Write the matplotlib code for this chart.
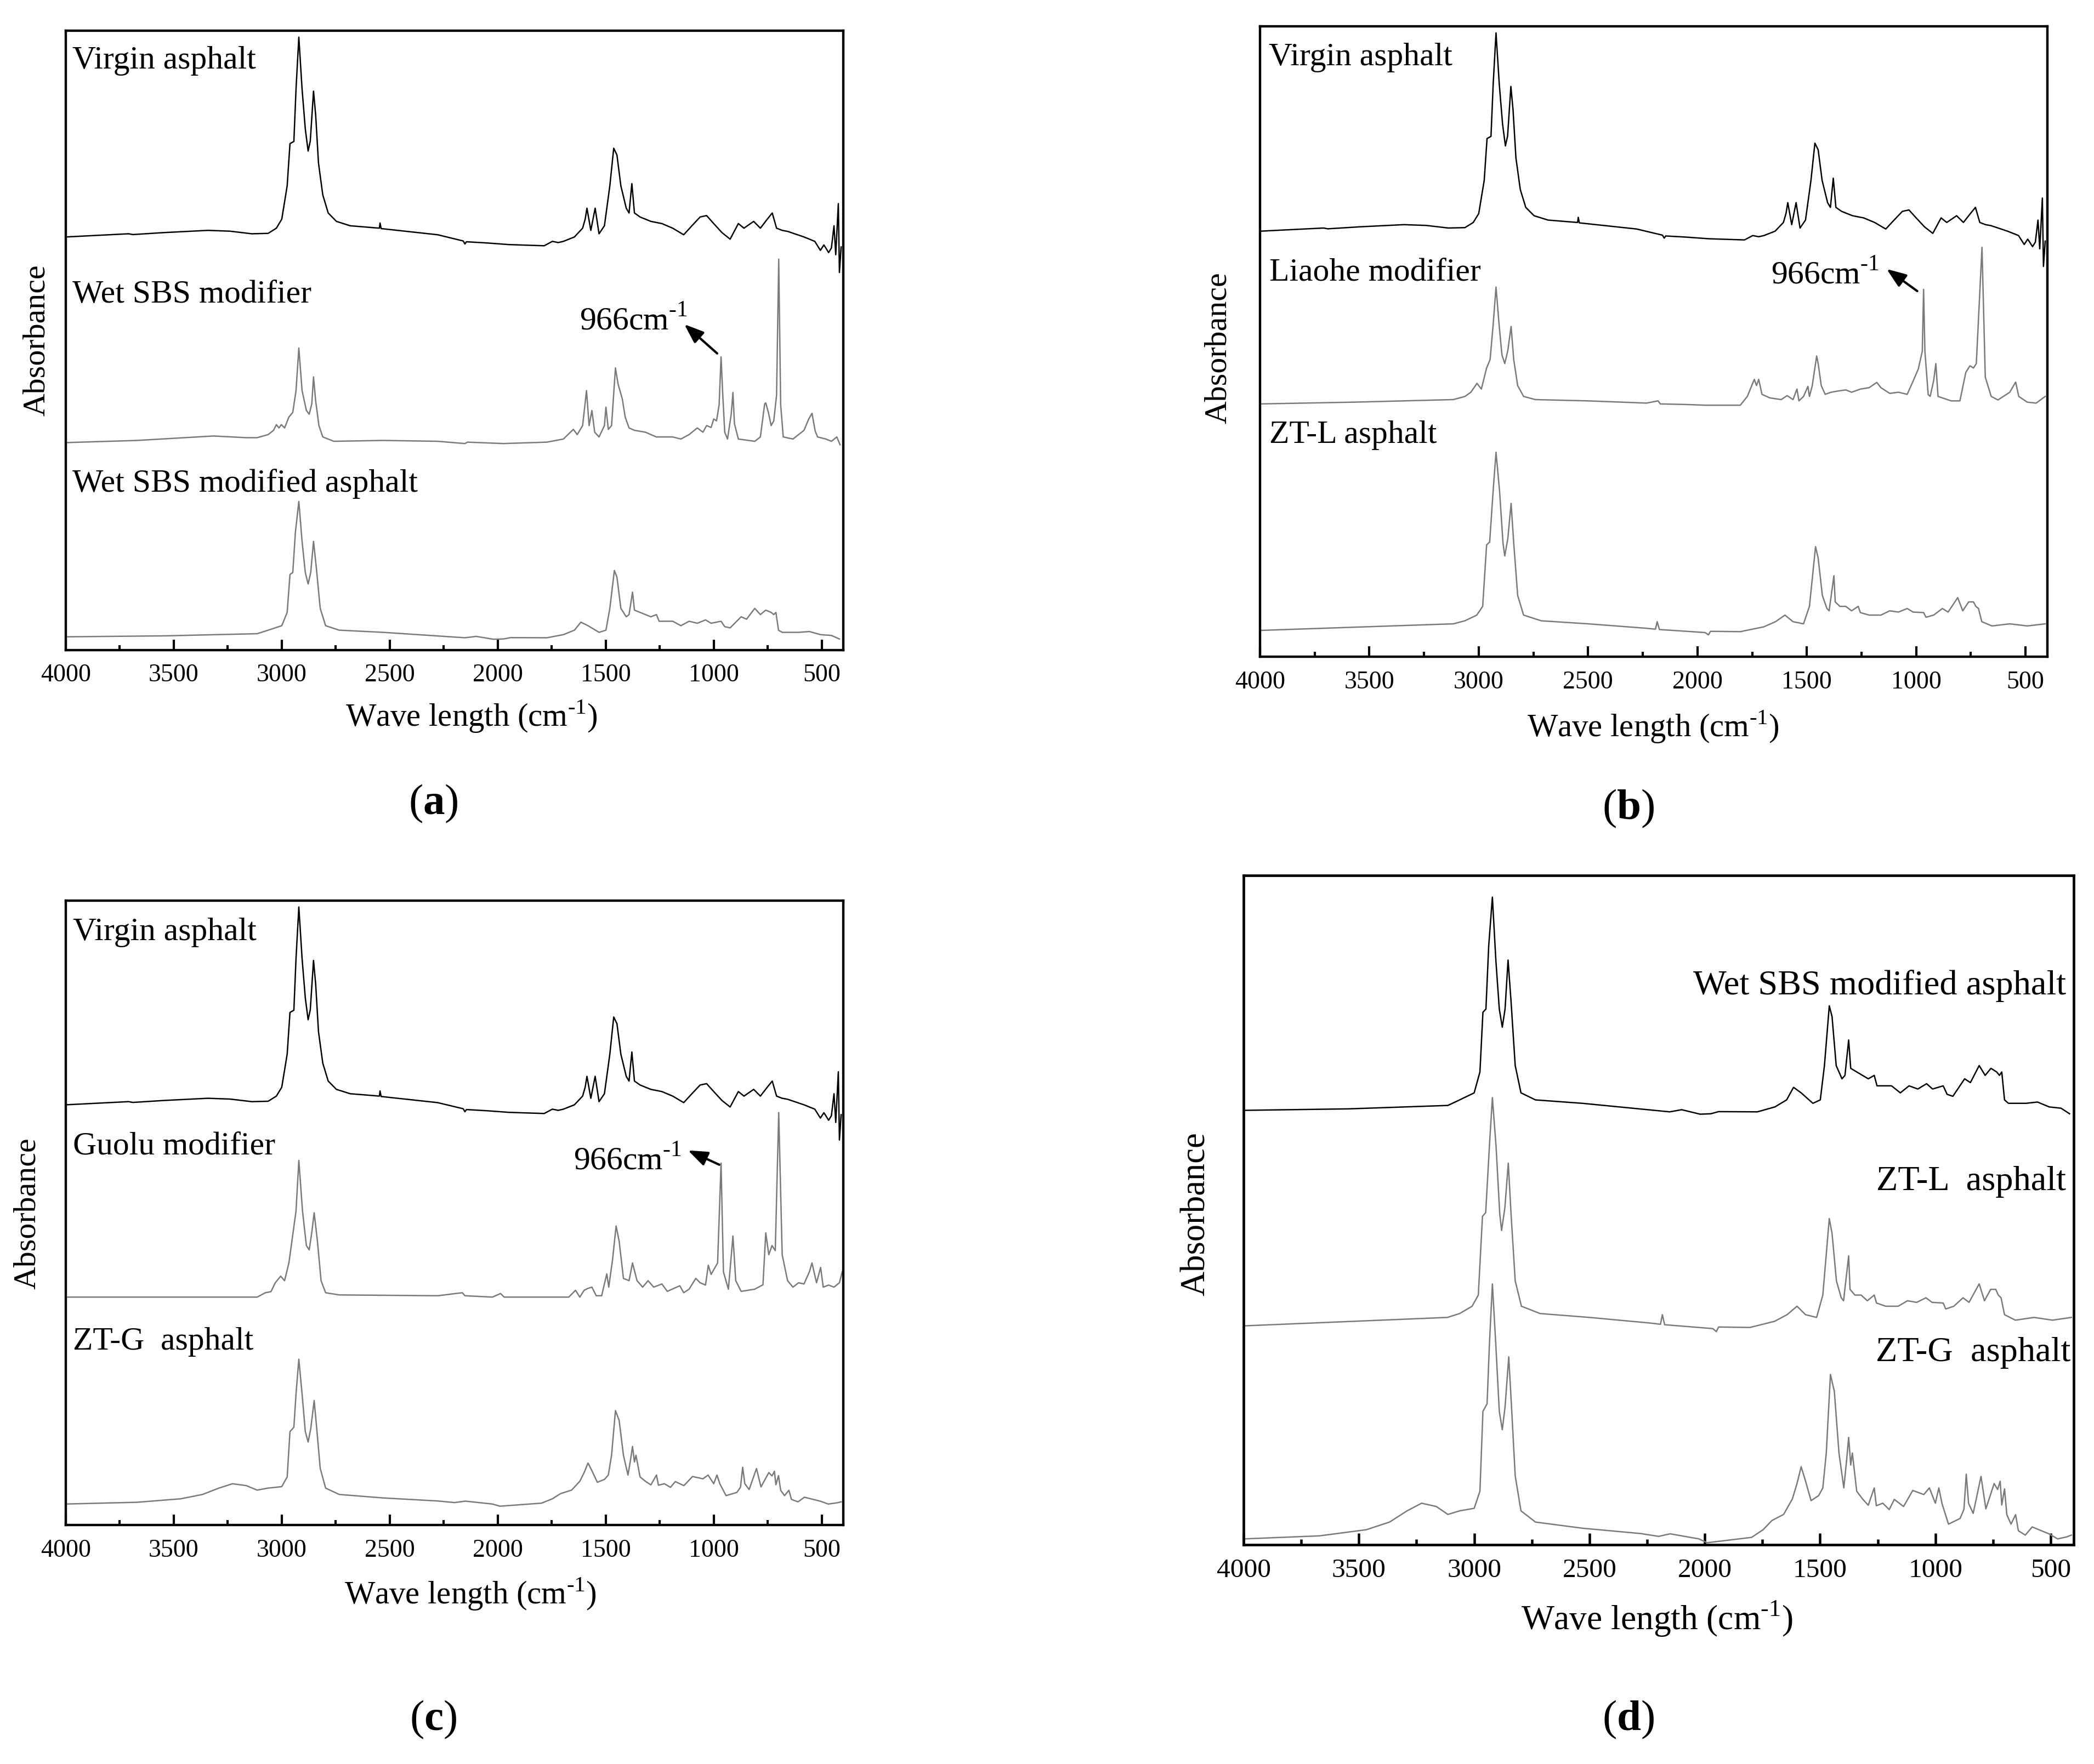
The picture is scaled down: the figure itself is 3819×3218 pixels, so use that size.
import matplotlib
matplotlib.use("Agg")
import matplotlib.pyplot as plt
from matplotlib.ticker import MultipleLocator

plt.rcParams['font.family'] = ['Liberation Serif', 'DejaVu Serif']
plt.rcParams['mathtext.fontset'] = 'custom'
plt.rcParams['mathtext.rm'] = 'Liberation Serif'
plt.rcParams['mathtext.bf'] = 'Liberation Serif:bold'

# spectra: wavenumber (cm-1) and absorbance,
# scaled so that the 2921 cm-1 band = 100 in every sample
virgin_wn = [4000, 3709, 3690, 3544, 3342, 3240, 3139, 3063, 3025, 3000, 2975, 2962, 2944, 2934,
             2921, 2906, 2891, 2878, 2868, 2853, 2843, 2830, 2810, 2785, 2747, 2683, 2548, 2545,
             2540, 2278, 2160, 2152, 2145, 2050, 1950, 1898, 1785, 1747, 1720, 1696, 1645, 1607,
             1595, 1587, 1569, 1549, 1531, 1506, 1481, 1463, 1448, 1430, 1405, 1392, 1379, 1367,
             1341, 1291, 1240, 1190, 1139, 1101, 1063, 1033, 1000, 962, 924, 886, 860, 815, 784,
             752, 729, 709, 683, 658, 582, 532, 506, 490, 481, 468, 455, 443, 435, 423, 418, 410]
virgin_ab = [0, 1.6, 1.2, 2.2, 3.3, 2.9, 1.6, 1.8, 4.4, 8.9, 25.6, 46.7, 47.8, 74,
             100, 74, 54, 43, 48, 73, 61, 37, 21, 12, 7.8, 5.6, 4.4, 7,
             4.2, 1.1, -2, -3.5, -2.4, -3, -3.8, -4, -4.4, -2.2, -2.8, -2.2, 0, 4.4,
             9, 14.4, 3.3, 14.4, 1.6, 5.6, 25.6, 44.4, 41, 25.6, 14.4, 12, 26.7, 12,
             10, 7.8, 6.7, 4.4, 1.1, 5.6, 10, 10.7, 6.7, 2.2, -1.1, 6.7, 4.4, 7.8, 4.4,
             8.9, 12, 4.4, 3.3, 2.8, 0, -2.2, -6.7, -4, -5.5, -7.8, -5.5, 5.6, -8.9, 16.7, -17.8, -5]

sbs_mod_wn = [4000, 3671, 3316, 3164, 3114, 3063, 3038, 3025, 3013, 3002, 2987, 2967, 2949, 2934,
              2921, 2906, 2886, 2873, 2861, 2853, 2843, 2828, 2810, 2759, 2531, 2278, 2152, 2140,
              1974, 1772, 1696, 1650, 1632, 1607, 1589, 1577, 1564, 1551, 1531, 1506, 1499, 1488,
              1473, 1455, 1443, 1423, 1410, 1392, 1367, 1316, 1266, 1190, 1152, 1114, 1076, 1050,
              1033, 1012, 1000, 987, 975, 966, 958, 949, 936, 919, 911, 904, 886, 810, 784, 764,
              759, 747, 734, 722, 709, 699, 690, 678, 633, 582, 560, 545, 530, 519, 481, 455, 430, 415]
sbs_mod_ab = [0, 2.3, 7, 5.2, 5.2, 8.5, 13, 19, 15.5, 19, 15.5, 27, 32, 55,
              100, 55, 34, 30, 41, 69.5, 44, 18, 6, 1.4, 2.3, 1.4, -1, 0.5,
              -1, 0.5, 3.8, 14, 8.5, 18, 55, 18, 34, 11, 6, 18, 37.5, 14,
              18, 79, 62, 46, 27, 15.5, 13, 11, 6, 6, 3.8, 8.5, 15.5, 11,
              18, 16, 25, 23, 40, 90.6, 50, 11, 3.8, 30, 53, 20, 3.8, 1.4, 6, 41,
              42, 32, 18, 23, 50, 194, 40, 6, 3.8, 13, 25, 31, 12, 6, 3.8, 1.4, 6, -2.3]

sbs_asp_wn = [4000, 3544, 3114, 3063, 3000, 2975, 2962, 2949, 2937, 2921, 2906, 2891, 2878, 2866,
              2853, 2840, 2822, 2797, 2734, 2531, 2152, 2100, 2020, 1974, 1940, 1772, 1696, 1645,
              1615, 1582, 1531, 1499, 1481, 1460, 1448, 1430, 1405, 1392, 1376, 1367, 1316, 1291,
              1265, 1253, 1190, 1152, 1114, 1076, 1038, 1012, 966, 949, 924, 873, 848, 810, 784,
              759, 734, 722, 712, 700, 683, 607, 557, 506, 455, 418]
sbs_asp_ab = [0, 0.7, 2.3, 4.9, 8.2, 18, 46, 47.5, 77, 100, 70.5, 47.5, 39, 47.5,
              70.5, 51, 21, 8.2, 4.9, 3.3, -0.7, 0.3, -1.8, -1.6, -0.6, -0.7, 1.6, 4.9,
              10.8, 8.2, 3.3, 4.9, 21, 49, 44, 21, 14.8, 16.4, 33, 19.7, 16.4, 14.8,
              16.4, 11.5, 11.5, 8.2, 11.5, 10, 12.5, 10, 11.5, 7.5, 6.6, 14.8, 13, 21, 16.4,
              19.7, 18, 16.4, 18, 4.9, 3.3, 3.3, 3.9, 1.6, 1, -1.6]

liaohe_wn = [4000, 3572, 3116, 3063, 3036, 3008, 2988, 2964, 2948, 2934, 2921, 2907, 2894, 2881,
             2867, 2852, 2840, 2822, 2795, 2741, 2500, 2233, 2180, 2170, 2050, 1965, 1804, 1772,
             1740, 1730, 1720, 1705, 1670, 1617, 1590, 1563, 1545, 1536, 1515, 1495, 1488, 1475,
             1455, 1448, 1434, 1416, 1389, 1362, 1322, 1295, 1255, 1215, 1180, 1161, 1121, 1081,
             1041, 1014, 990, 972, 966, 960, 945, 936, 920, 910, 900, 840, 800, 773, 754, 738,
             725, 699, 684, 657, 626, 572, 545, 531, 492, 451, 424, 410]
liaohe_ab = [0, 1.5, 3.7, 6.4, 10, 17.6, 12.7, 30.7, 38, 68, 100, 68, 42, 34.5,
             45.7, 66.3, 38, 15.7, 6.4, 3.7, 2.6, 0.7, 2.6, 0, -0.5, -1.1, -1.1, 6.4,
             21, 15.7, 21, 8.2, 5.2, 3.7, 7.1, 3.7, 12.7, 2.6, 6.4, 15, 6.4, 15.7,
             41, 34.5, 15.7, 8.2, 10, 10.9, 12, 10, 12.7, 13.9, 18.4, 13.9, 9, 10,
             8.2, 19.5, 30, 45, 98, 45, 8, 6.4, 20, 34.5, 6.4, 2.6, 2.6, 27, 32.6, 30.7,
             34.5, 134, 23, 6.4, 3.4, 10, 18.7, 6.4, 1.5, 0.7, 4.5, 6.4]

ztl_wn = [4000, 3116, 3063, 3009, 2982, 2964, 2950, 2934, 2921, 2905, 2889, 2881, 2867, 2852,
          2840, 2822, 2795, 2714, 2500, 2233, 2192, 2184, 2174, 2050, 1965, 1950, 1940, 1804,
          1697, 1643, 1600, 1563, 1515, 1488, 1460, 1448, 1429, 1408, 1398, 1376, 1370, 1349,
          1322, 1295, 1265, 1255, 1215, 1161, 1121, 1081, 1041, 1014, 966, 955, 920, 880, 854,
          810, 787, 760, 738, 727, 715, 700, 653, 572, 492, 410]
ztl_ab = [0, 3.7, 5.4, 8.6, 13.5, 48, 49.6, 78.6, 100, 78.6, 49, 41.8, 51.6, 71.3,
          49, 19.7, 8.6, 5.4, 3.7, 1.2, 0.7, 4.9, 0.5, -0.5, -1.2, -2.5, -0.5, -0.7,
          2, 4.9, 8.6, 4.9, 3.7, 13.5, 47, 40.5, 19.7, 12.3, 11, 30.7, 16, 13.5,
          13.5, 11, 13.5, 10, 8.6, 8.6, 11, 10.3, 12.3, 10.3, 10, 7.4, 8.6, 12.3, 10.3,
          18.4, 11, 16, 16, 13.5, 12.3, 4.9, 2.5, 3.7, 2.5, 3.7]

guolu_wn = [4000, 3114, 3076, 3050, 3030, 3005, 2987, 2967, 2949, 2934, 2921, 2904, 2886, 2873,
            2861, 2850, 2835, 2818, 2797, 2734, 2278, 2164, 2152, 2025, 1987, 1970, 1772, 1671,
            1640, 1620, 1600, 1582, 1564, 1544, 1519, 1495, 1486, 1468, 1452, 1438, 1418, 1392,
            1376, 1355, 1329, 1304, 1278, 1240, 1215, 1157, 1139, 1114, 1083, 1063, 1038, 1025,
            1012, 1000, 982, 966, 955, 932, 911, 898, 873, 810, 772, 759, 745, 730, 715, 699,
            683, 658, 633, 607, 582, 557, 545, 524, 505, 493, 468, 443, 418, 405]
guolu_ab = [0, 0, 3.2, 4, 10.5, 15.3, 12, 25, 45.7, 63, 100, 63, 37.7, 34.5,
            47.3, 61.7, 41, 12, 3.2, 1.6, 1, 3.2, 1, 0, 2.6, 0, 0, 0,
            5, 0, 5, 6.4, 7.3, 1, 1, 17, 7.3, 28, 52, 41, 13.7, 12,
            25, 12, 7.3, 12, 7.3, 9.6, 4.2, 8.3, 3.2, 5.8, 13.7, 10.5, 8.8, 23.3,
            16.6, 20, 25, 98, 18.5, 5.8, 44.7, 12, 4.2, 5.8, 9, 47, 31, 37.7, 34, 135,
            31, 12, 7.3, 10.5, 9.6, 18.5, 25, 10.5, 21.7, 7.3, 8.8, 7.3, 10.5, 18.5]

ztg_wn = [4000, 3671, 3468, 3367, 3291, 3228, 3164, 3114, 3063, 3000, 2975, 2962, 2944, 2934,
          2921, 2906, 2891, 2878, 2866, 2850, 2838, 2822, 2797, 2734, 2531, 2278, 2200, 2150,
          2025, 1990, 1797, 1747, 1709, 1658, 1620, 1600, 1582, 1564, 1539, 1506, 1488, 1473,
          1455, 1438, 1418, 1397, 1385, 1376, 1367, 1360, 1341, 1316, 1291, 1265, 1256, 1228,
          1200, 1178, 1138, 1098, 1050, 1026, 1000, 985, 971, 943, 893, 876, 866, 856, 836,
          802, 781, 745, 730, 719, 712, 700, 690, 672, 652, 640, 610, 580, 540, 505, 470, 430, 410]
ztg_ab = [0, 1.2, 3.6, 6.6, 11, 14, 12.7, 9.6, 11, 12, 18.7, 50, 53, 76,
          100, 76, 50, 42.8, 51.8, 71.4, 51.8, 24.7, 11, 6.6, 4.2, 2.1, 1, 2,
          0, -1.5, 0.6, 3.6, 7.2, 9.6, 15.7, 21.7, 28.3, 23, 15, 17, 20, 33.7,
          64.5, 57.8, 33.7, 20, 30.7, 39.8, 29, 33.7, 18.7, 15.7, 13.2, 20, 13, 14,
          11.5, 15.5, 12.7, 19, 17.4, 20, 14, 20, 13.8, 5.8, 8, 11.6, 25.4, 14, 10,
          24.5, 11.8, 21.7, 19.4, 22.6, 13.3, 19.6, 9.5, 5.8, 9.5, 3.2, 1.5, 4.7, 3.2, 1.9, 0, 0.8, 1.5]

spectra = {
    'virgin': (virgin_wn, virgin_ab),
    'sbs_mod': (sbs_mod_wn, sbs_mod_ab),
    'sbs_asp': (sbs_asp_wn, sbs_asp_ab),
    'liaohe': (liaohe_wn, liaohe_ab),
    'ztl': (ztl_wn, ztl_ab),
    'guolu': (guolu_wn, guolu_ab),
    'ztg': (ztg_wn, ztg_ab),
}

W, H = 3819, 3218
DPI = 300
BLACK = '#000000'
GREY = '#7a7a7a'
SUP = r'$^{\text{-1}}$'   # hyphen, not a minus sign, as in the original


def rect(left, top, right, bottom):
    # pixel box -> figure fraction
    return [left / W, 1 - bottom / H, (right - left) / W, (bottom - top) / H]


# each panel: pixel box, traces (sample, baseline, height, colour),
# trace labels (text, x, y, ha), 966 note, caption, text scale
panels = [
    dict(box=(120, 56, 1538, 1186), s=1.0,
         traces=[('virgin', 0.667, 0.3226, BLACK), ('sbs_mod', 0.335, 0.1527, GREY),
                 ('sbs_asp', 0.0215, 0.2186, GREY)],
         labels=[('Virgin asphalt', 0.0085, 0.939, 'left'), ('Wet SBS modifier', 0.0085, 0.561, 'left'),
                 ('Wet SBS modified asphalt', 0.0085, 0.256, 'left')],
         note=((1621, 0.518), (1136, 0.526), (984, 0.479)),
         xlab=(860, 1307), ylab=(67, 621), cap=('a', 790, 1466)),
    dict(box=(2298, 48, 3734, 1198), s=1.0,
         traces=[('virgin', 0.675, 0.3146, BLACK), ('liaohe', 0.401, 0.1854, GREY),
                 ('ztl', 0.0417, 0.2826, GREY)],
         labels=[('Virgin asphalt', 0.011, 0.938, 'left'), ('Liaohe modifier', 0.012, 0.597, 'left'),
                 ('ZT-L asphalt', 0.012, 0.339, 'left')],
         note=((1664, 0.592), (1135, 0.615), (995, 0.58)),
         xlab=(3015, 1326), ylab=(2222, 635), cap=('b', 2970, 1475)),
    dict(box=(120, 1643, 1538, 2782), s=1.0,
         traces=[('virgin', 0.673, 0.3168, BLACK), ('guolu', 0.365, 0.219, GREY),
                 ('ztg', 0.0336, 0.232, GREY)],
         labels=[('Virgin asphalt', 0.009, 0.937, 'left'), ('Guolu modifier', 0.009, 0.594, 'left'),
                 ('ZT-G  asphalt', 0.009, 0.281, 'left')],
         note=((1650, 0.57), (1119, 0.60), (974, 0.577)),
         xlab=(858, 2908), ylab=(50, 2214), cap=('c', 790, 3137)),
    dict(box=(2268, 1597, 3782, 2818), s=1.08,
         traces=[('sbs_asp', 0.649, 0.3186, BLACK), ('ztl', 0.327, 0.341, GREY),
                 ('ztg', 0.0087, 0.381, GREY)],
         labels=[('Wet SBS modified asphalt', 0.9906, 0.8225, 'right'), ('ZT-L  asphalt', 0.9906, 0.53, 'right'),
                 ('ZT-G  asphalt', 0.996, 0.2745, 'right')],
         note=None,
         xlab=(3022, 2953), ylab=(2182, 2215), cap=('d', 2970, 3137)),
]

fig = plt.figure(figsize=(W / DPI, H / DPI), dpi=DPI)

for p in panels:
    s = p['s']
    ax = fig.add_axes(rect(*p['box']))
    for name, base, height, col in p['traces']:
        wn, ab = spectra[name]
        ax.plot(wn, [base + height * v / 100 for v in ab], color=col, lw=0.6)
    ax.set_xlim(4000, 400)
    ax.set_ylim(0, 1)
    ax.set_yticks([])
    ax.xaxis.set_major_locator(MultipleLocator(500))
    ax.xaxis.set_minor_locator(MultipleLocator(250))
    ax.tick_params(axis='x', which='major', direction='in', length=4.6 * s, width=1.0 * s,
                   labelsize=11.0 * s, pad=6)
    ax.tick_params(axis='x', which='minor', direction='in', length=2.2 * s, width=1.0 * s)
    for sp in ax.spines.values():
        sp.set_linewidth(1.05 * s)

    for text, x, y, ha in p['labels']:
        ax.text(x, y, text, transform=ax.transAxes, ha=ha, va='baseline', fontsize=14.3 * s)

    if p['note']:
        (tx, ty), head, tail = p['note']
        ax.text(tx, ty, '966cm' + SUP, ha='left', va='baseline', fontsize=14.3)
        ax.annotate('', xy=head, xytext=tail,
                    arrowprops=dict(arrowstyle='-|>,head_length=0.45,head_width=0.17',
                                    color='k', lw=1.0, mutation_scale=16,
                                    shrinkA=0, shrinkB=0))

    fig.text(p['xlab'][0] / W, 1 - p['xlab'][1] / H, 'Wave length (cm' + SUP + ')',
             ha='center', va='center', fontsize=14.1 * s)
    fig.text(p['ylab'][0] / W, 1 - p['ylab'][1] / H, 'Absorbance', rotation=90,
             ha='center', va='center', fontsize=13.9 * s)
    letter, cx, cy = p['cap']
    fig.text(cx / W, 1 - cy / H, '($\\mathbf{%s}$)' % letter,
             ha='center', va='center', fontsize=19)

fig.savefig('out.png', dpi=DPI)
